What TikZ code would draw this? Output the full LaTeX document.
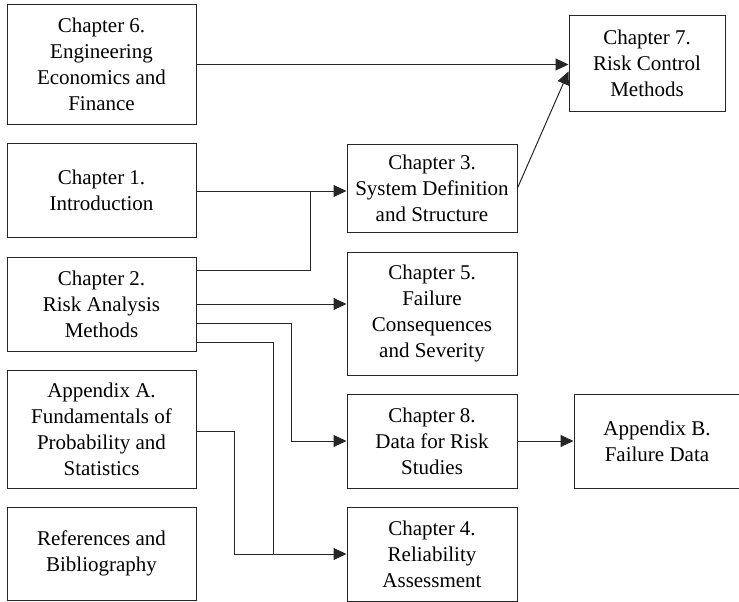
\documentclass[tikz,border=0pt]{standalone}
\usepackage{fontspec}
\setmainfont{Liberation Serif}
\usetikzlibrary{arrows.meta}
\begin{document}
\begin{tikzpicture}[x=1pt,y=-1pt,
  chapbox/.style={draw=black!85,line width=1pt,align=center,inner sep=0pt,
    font=\fontsize{21}{26}\selectfont},
  link/.style={draw=black!85,line width=1pt},
  linkarrow/.style={link,-{Triangle[length=13pt,width=12pt]}}]
\useasboundingbox (0,0) rectangle (739,602);
% left column
\node[chapbox,minimum width=189pt,minimum height=119pt] (ch6) at (101.5,64.5)
  {Chapter 6.\\Engineering\\Economics and\\Finance};
\node[chapbox,minimum width=189pt,minimum height=94pt] (ch1) at (101.5,190)
  {Chapter 1.\\Introduction};
\node[chapbox,minimum width=189pt,minimum height=94pt] (ch2) at (101.5,304)
  {Chapter 2.\\Risk Analysis\\Methods};
\node[chapbox,minimum width=189pt,minimum height=118pt] (appA) at (101.5,429)
  {Appendix A.\\Fundamentals of\\Probability and\\Statistics};
\node[chapbox,minimum width=189pt,minimum height=93pt] (refs) at (101.5,553.5)
  {References and\\Bibliography};
% middle column
\node[chapbox,minimum width=170pt,minimum height=88pt] (ch3) at (432,188)
  {Chapter 3.\\System Definition\\and Structure};
\node[chapbox,minimum width=170pt,minimum height=123pt] (ch5) at (432,313.5)
  {Chapter 5.\\Failure\\Consequences\\and Severity};
\node[chapbox,minimum width=170pt,minimum height=94pt] (ch8) at (432,441)
  {Chapter 8.\\Data for Risk\\Studies};
\node[chapbox,minimum width=170pt,minimum height=94pt] (ch4) at (432,554)
  {Chapter 4.\\Reliability\\Assessment};
% right column
\node[chapbox,minimum width=156pt,minimum height=95pt] (ch7) at (647,63.5)
  {Chapter 7.\\Risk Control\\Methods};
\node[chapbox,minimum width=166pt,minimum height=94pt] (appB) at (657,441)
  {Appendix B.\\Failure Data};
% routing points
\coordinate (j1) at (310,191);
\coordinate (c2) at (291,441);
\coordinate (c3) at (273,554);
\coordinate (c4) at (234,554);
% connectors
\draw[linkarrow] (ch6.east) -- (ch6.east -| ch7.west);
\draw[linkarrow] ([yshift=-1pt]ch1.east) -- ([yshift=-1pt]ch1.east -| ch3.west);
\draw[link] ([yshift=34pt]ch2.east) -| (j1);
\draw[linkarrow] (ch3.east) -- ([yshift=-8pt]ch7.west);
\draw[linkarrow] (ch2.east) -- (ch2.east -| ch5.west);
\draw[linkarrow] ([yshift=-19pt]ch2.east) -| (c2) -- (ch8.west);
\draw[linkarrow] ([yshift=-38pt]ch2.east) -| (c3) -- (ch4.west);
\draw[link] ([yshift=-2pt]appA.east) -| (c4) -- (c3);
\draw[linkarrow] (ch8.east) -- (appB.west);
\end{tikzpicture}
\end{document}
